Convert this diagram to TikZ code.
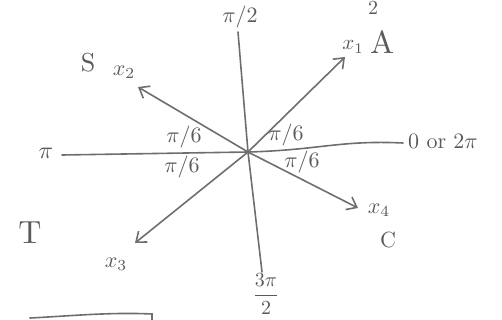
\documentclass[tikz,border=0pt]{standalone}
\usetikzlibrary{arrows.meta}
\definecolor{pencil}{HTML}{6E6E6E}
\definecolor{ink}{HTML}{5A5A5A}
\tikzset{
  axis/.style={draw=pencil, line width=1.6pt, line cap=round},
  vec/.style={axis, -{Straight Barb[length=9pt, width=14pt, line width=1.6pt]}},
  lbl/.style={text=ink, inner sep=0.5pt},
  ang/.style={text=ink, inner sep=0pt, scale=2.2}
}
\begin{document}
\begin{tikzpicture}[x=1pt, y=-1pt]
\useasboundingbox (0,0) rectangle (502,320);
\coordinate (O) at (248,152);
\coordinate (up) at (238,32);
\coordinate (down) at (262,272);
\coordinate (left) at (62,155);
\coordinate (right) at (403,143);
\coordinate (e1) at (345,57);
\coordinate (e2) at (138,87);
\coordinate (e3) at (135,243);
\coordinate (e4) at (358,208);
\coordinate (b1) at (30,318);
\coordinate (b2) at (152,314);
% axes
\draw[axis] (O) -- (up);
\draw[axis] (O) -- (down);
\draw[axis] (O) -- (left);
\draw[axis] (O) .. controls (320,150) and (340,140) .. (right);
\draw[vec] (O) -- (e1);
\draw[vec] (O) -- (e2);
\draw[vec] (O) -- (e3);
\draw[vec] (O) -- (e4);
\draw[axis] (b1) .. controls (70,316) and (110,312) .. (b2) -- (152,320);
% axis labels
\node[lbl, scale=2.2] (lup) at (240,17) {$\pi/2$};
\node[lbl, scale=2.0] (ldown) at (266,294) {$\displaystyle\frac{3\pi}{2}$};
\node[lbl, scale=2.4] (lleft) at (46,153) {$\pi$};
\node[lbl, scale=2.2] (lright) at (443,141) {0 or 2$\pi$};
% vector labels
\node[lbl, scale=2.1] (l1) at (353,47) {$x_1$};
\node[lbl, scale=2.2] (l2) at (124,72) {$x_2$};
\node[lbl, scale=2.2] (l3) at (116,264) {$x_3$};
\node[lbl, scale=2.2] (l4) at (379,210) {$x_4$};
% quadrant letters
\node[lbl, scale=3.2] (qA) at (382,42) {A};
\node[lbl, scale=2.6] (qS) at (88,63) {S};
\node[lbl, scale=3.2] (qT) at (30,233) {T};
\node[lbl, scale=2.2] (qC) at (388,240) {C};
\node[lbl, scale=2.0] (qtop) at (373,8) {2};
% angle labels
\node[ang] (a1) at (184,137) {$\pi/6$};
\node[ang] (a2) at (182,167) {$\pi/6$};
\node[ang] (a3) at (286,135) {$\pi/6$};
\node[ang] (a4) at (302,162) {$\pi/6$};
\end{tikzpicture}
\end{document}
